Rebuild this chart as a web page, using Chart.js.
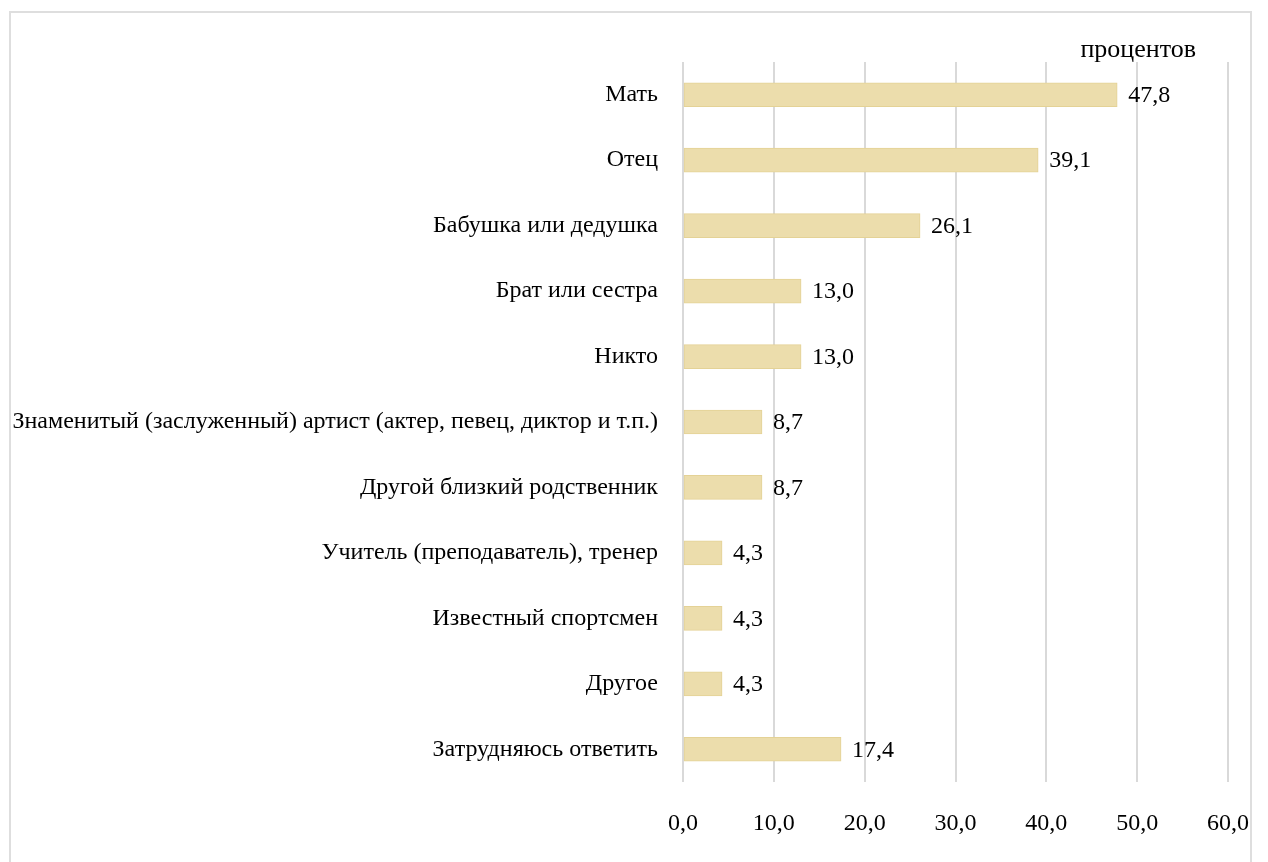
<!DOCTYPE html>
<html>
<head>
<meta charset="utf-8">
<script src="https://cdn.jsdelivr.net/npm/chart.js@4"></script>
<style>
  body { margin: 0; background: #fff; }
  #frame { position: absolute; left: 9px; top: 11px; width: 1239px; height: 870px; border: 2px solid #dedede; }
  #myChart { position: absolute; left: 0; top: 0; }
</style>
</head>
<body>
<div id="frame"></div>
<canvas id="myChart" width="1268" height="862"></canvas>
<script>
// Data
let categories = [
    'Мать',
    'Отец',
    'Бабушка или дедушка',
    'Брат или сестра',
    'Никто',
    'Знаменитый (заслуженный) артист (актер, певец, диктор и т.п.)',
    'Другой близкий родственник',
    'Учитель (преподаватель), тренер',
    'Известный спортсмен',
    'Другое',
    'Затрудняюсь ответить'
];
let values = [47.8, 39.1, 26.1, 13.0, 13.0, 8.7, 8.7, 4.3, 4.3, 4.3, 17.4];
let xTicks = [0, 10, 20, 30, 40, 50, 60];
let unitLabel = 'процентов';

let fontFamily = '"Liberation Serif", "Times New Roman", serif';

function fmt(v) {
    return v.toFixed(1).replace('.', ',');
}

// Value labels and unit caption
let labelsPlugin = {
    id: 'labels',
    afterDatasetsDraw(chart) {
        let ctx = chart.ctx;
        let meta = chart.getDatasetMeta(0);
        ctx.save();
        ctx.font = '24px ' + fontFamily;
        ctx.fillStyle = '#000';
        ctx.textBaseline = 'middle';
        ctx.textAlign = 'left';
        meta.data.forEach(function (bar, i) {
            ctx.fillText(fmt(values[i]), bar.x + 11, bar.y + 1);
        });
        ctx.font = '26px ' + fontFamily;
        ctx.textAlign = 'right';
        ctx.fillText(unitLabel, 1196, 50);
        ctx.restore();
    }
};

function createChart() {
    let ctx = document.getElementById('myChart').getContext('2d');
    new Chart(ctx, {
        type: 'bar',
        data: {
            labels: categories,
            datasets: [{
                data: values,
                backgroundColor: 'rgb(236, 221, 172)',
                borderColor: 'rgb(228, 210, 150)',
                borderWidth: 1,
                borderSkipped: false,
                barThickness: 24
            }]
        },
        options: {
            indexAxis: 'y',
            responsive: false,
            animation: false,
            layout: { padding: { top: 62, right: 40, left: 0, bottom: 0 } },
            plugins: {
                legend: { display: false },
                tooltip: { enabled: false }
            },
            scales: {
                x: {
                    min: 0,
                    max: 60,
                    afterBuildTicks: function (scale) {
                        scale.ticks = xTicks.map(function (v) { return { value: v }; });
                    },
                    afterFit: function (scale) {
                        scale.height = 80;
                        scale.paddingLeft = 0;
                        scale.paddingRight = 0;
                    },
                    grid: { color: '#d9d9d9', lineWidth: 2, drawTicks: false },
                    border: { display: false },
                    ticks: {
                        padding: 27,
                        color: '#000',
                        font: { family: fontFamily, size: 24 },
                        callback: function (v) { return fmt(v); }
                    }
                },
                y: {
                    afterFit: function (scale) { scale.width = 683; },
                    grid: { display: false },
                    border: { display: false },
                    ticks: {
                        padding: 17,
                        color: '#000',
                        font: { family: fontFamily, size: 24 }
                    }
                }
            }
        },
        plugins: [labelsPlugin]
    });
}

createChart();
</script>
</body>
</html>
